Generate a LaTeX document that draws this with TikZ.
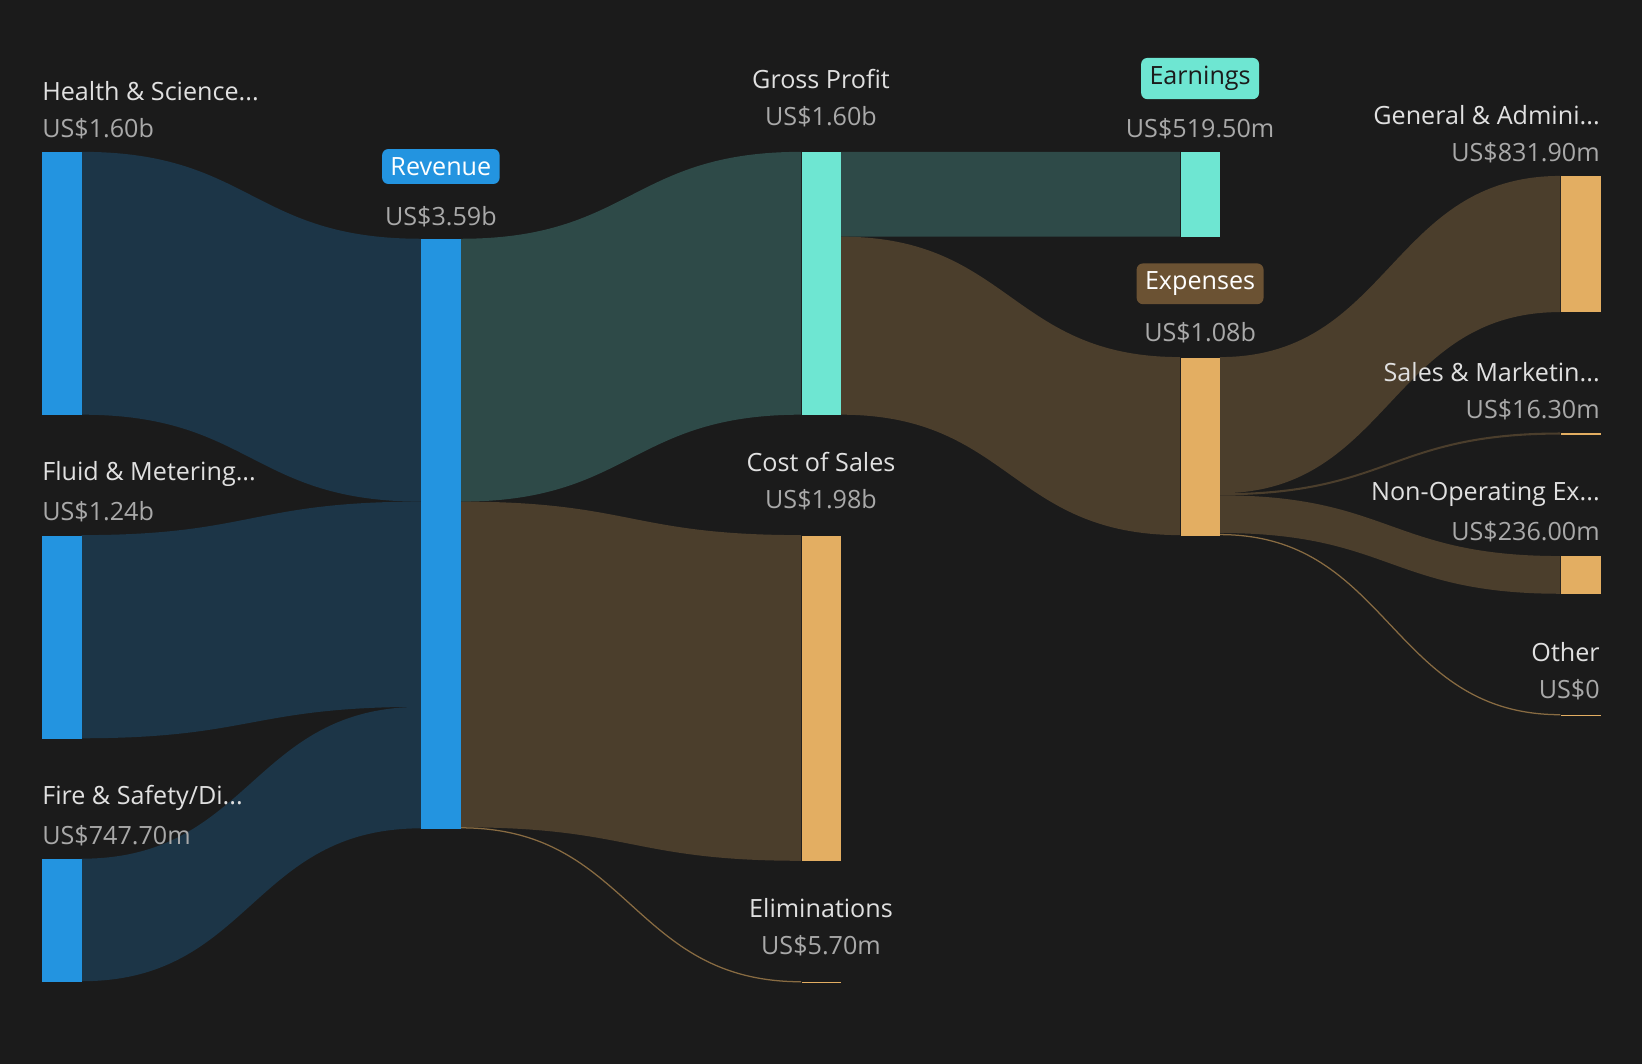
\documentclass[tikz,border=0pt]{standalone}
\usepackage{fontspec}
\setmainfont{Open Sans}
\definecolor{bg}{HTML}{1B1B1B}
\definecolor{barblue}{HTML}{2394E0}
\definecolor{flowblue}{HTML}{1C3547}
\definecolor{barteal}{HTML}{6EE6D2}
\definecolor{flowgreen}{HTML}{2E4A48}
\definecolor{barorange}{HTML}{E3AE62}
\definecolor{flowbrown}{HTML}{4B3E2C}
\definecolor{badgebrown}{HTML}{6B5233}
\definecolor{nametext}{HTML}{E0E0E0}
\definecolor{valtext}{HTML}{A9A9A9}
% flow band: colour, x1, top1, bottom1, x2, top2, bottom2
\newcommand\band[7]{%
  \fill[#1] (#2,#3) .. controls ({(#2+#5)/2},#3) and ({(#2+#5)/2},#6) .. (#5,#6)
    -- (#5,#7) .. controls ({(#2+#5)/2},#7) and ({(#2+#5)/2},#4) .. (#2,#4) -- cycle;}
% thin flow line: colour, x1, y1, x2, y2
\newcommand\thinband[5]{%
  \draw[#1,line width=0.6pt] (#2,#3) .. controls ({(#2+#4)/2},#3) and ({(#2+#4)/2},#5) .. (#4,#5);}
\tikzset{
  bar/.style={draw=none,fill=#1,minimum width=19pt,inner sep=0pt,anchor=north west},
  lbl/.style={text=nametext,font=\fontsize{12}{14}\selectfont,inner sep=0pt},
  val/.style={text=valtext,font=\fontsize{12}{14}\selectfont,inner sep=0pt},
  badge/.style={fill=#1,rounded corners=3pt,inner sep=4pt,font=\fontsize{12}{14}\selectfont}
}
\begin{document}
\begin{tikzpicture}[x=0.5pt,y=-0.5pt]
\fill[bg] (0,0) rectangle (1568,1016);
\useasboundingbox (0,0) rectangle (1568,1016);
% flows
\band{flowblue}{78}{145}{396}{402}{228}{479}
\band{flowblue}{78}{511}{705}{402}{479}{675}
\band{flowblue}{78}{820}{937}{402}{675}{791}
\band{flowgreen}{440}{228}{479}{765}{145}{396}
\band{flowbrown}{440}{479}{790}{765}{511}{822}
\thinband{flowbrown!60!barorange}{440}{790.5}{765}{937.5}
\band{flowgreen}{803}{145}{226}{1127}{145}{226}
\band{flowbrown}{803}{226}{396}{1127}{341}{511}
\band{flowbrown}{1165}{341}{471}{1490}{168}{298}
\band{flowbrown}{1165}{471}{473}{1490}{413}{415}
\band{flowbrown}{1165}{473}{509}{1490}{531}{567}
\thinband{flowbrown!60!barorange}{1165}{510.5}{1490}{682.5}
% bars
\node[bar=barblue,minimum height=125.5pt] (health) at (40,145) {};
\node[bar=barblue,minimum height=97pt] (fluid) at (40,511) {};
\node[bar=barblue,minimum height=58.5pt] (fire) at (40,820) {};
\node[bar=barblue,minimum height=281.5pt] (revenue) at (402,228) {};
\node[bar=barteal,minimum height=125.5pt] (gross) at (765,145) {};
\node[bar=barorange,minimum height=155.5pt] (cost) at (765,511) {};
\node[bar=barorange,minimum height=0.8pt] (elim) at (765,937) {};
\node[bar=barteal,minimum height=40.5pt] (earn) at (1127,145) {};
\node[bar=barorange,minimum height=85pt] (exp) at (1127,341) {};
\node[bar=barorange,minimum height=65pt] (ga) at (1490,168) {};
\node[bar=barorange,minimum height=1pt] (sm) at (1490,413) {};
\node[bar=barorange,minimum height=18pt] (nonop) at (1490,531) {};
\node[bar=barorange,minimum height=0.8pt] (other) at (1490,682) {};
% labels
\node[lbl,anchor=west] (healthN) at (40,87) {Health \& Science...};
\node[val,anchor=west] (healthV) at (40,123) {US\$1.60b};
\node[lbl,anchor=west] (fluidN) at (40,453) {Fluid \& Metering...};
\node[val,anchor=west] (fluidV) at (40,489) {US\$1.24b};
\node[lbl,anchor=west] (fireN) at (40,762) {Fire \& Safety/Di...};
\node[val,anchor=west] (fireV) at (40,798) {US\$747.70m};
\node[badge=barblue,text=white] (revenueN) at (421,159) {Revenue};
\node[val] (revenueV) at (421,207) {US\$3.59b};
\node[lbl] (grossN) at (784,75) {Gross Profit};
\node[val] (grossV) at (784,111) {US\$1.60b};
\node[lbl] (costN) at (784,441) {Cost of Sales};
\node[val] (costV) at (784,477) {US\$1.98b};
\node[lbl] (elimN) at (784,867) {Eliminations};
\node[val] (elimV) at (784,903) {US\$5.70m};
\node[badge=barteal,text=bg] (earnN) at (1146,75) {Earnings};
\node[val] (earnV) at (1146,123) {US\$519.50m};
\node[badge=badgebrown,text=white] (expN) at (1146,271) {Expenses};
\node[val] (expV) at (1146,318) {US\$1.08b};
\node[lbl,anchor=east] (gaN) at (1528,110) {General \& Admini...};
\node[val,anchor=east] (gaV) at (1528,146) {US\$831.90m};
\node[lbl,anchor=east] (smN) at (1528,355) {Sales \& Marketin...};
\node[val,anchor=east] (smV) at (1528,391) {US\$16.30m};
\node[lbl,anchor=east] (nonopN) at (1528,472) {Non-Operating Ex...};
\node[val,anchor=east] (nonopV) at (1528,508) {US\$236.00m};
\node[lbl,anchor=east] (otherN) at (1528,623) {Other};
\node[val,anchor=east] (otherV) at (1528,659) {US\$0};
\end{tikzpicture}
\end{document}
